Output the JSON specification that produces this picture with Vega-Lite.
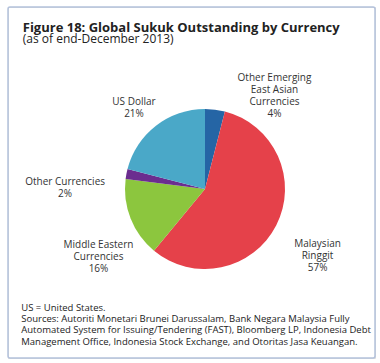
{
  "$schema": "https://vega.github.io/schema/vega-lite/v6.json",
  "padding": {"left": 6, "top": 5, "right": 7, "bottom": 7},
  "background": "white",
  "title": {
    "text": "Figure 18: Global Sukuk Outstanding by Currency",
    "subtitle": "(as of end-December 2013)",
    "anchor": "start",
    "orient": "top",
    "offset": -39,
    "dx": 16,
    "font": "Open Sans",
    "fontSize": 13,
    "fontWeight": "bold",
    "color": "#222222",
    "subtitleFont": "Open Sans",
    "subtitleFontSize": 12,
    "subtitleColor": "#222222",
    "subtitlePadding": -1
  },
  "vconcat": [
    {
      "width": 367,
      "height": 351,
      "title": {
        "text": [
          "US = United States.",
          "Sources: Autoriti Monetari Brunei Darussalam, Bank Negara Malaysia Fully",
          "Automated System for Issuing/Tendering (FAST), Bloomberg LP, Indonesia Debt",
          "Management Office, Indonesia Stock Exchange, and Otoritas Jasa Keuangan."
        ],
        "orient": "bottom",
        "anchor": "start",
        "offset": -56,
        "dx": 14,
        "font": "Open Sans",
        "fontSize": 9.5,
        "fontWeight": "normal",
        "lineHeight": 11.3,
        "color": "#222222"
      },
      "data": {
        "values": [
          {"currency": "Other Emerging East Asian Currencies", "share": 4, "rank": 1, "label": "Other Emerging\nEast Asian\nCurrencies\n4%"},
          {"currency": "Malaysian Ringgit", "share": 57, "rank": 2, "label": "Malaysian\nRinggit\n57%"},
          {"currency": "Middle Eastern Currencies", "share": 16, "rank": 3, "label": "Middle Eastern\nCurrencies\n16%"},
          {"currency": "Other Currencies", "share": 2, "rank": 4, "label": "Other Currencies\n2%"},
          {"currency": "US Dollar", "share": 21, "rank": 5, "label": "US Dollar\n21%"}
        ]
      },
      "layer": [
        {
          "data": {"values": [{"frame": "border"}]},
          "mark": {"type": "rect", "filled": false, "stroke": "#b4c2dc", "strokeWidth": 1.5, "cornerRadius": 2},
          "encoding": {
            "x": {"value": 0},
            "x2": {"value": "width"},
            "y": {"value": 0},
            "y2": {"value": "height"}
          }
        },
        {
          "mark": {"type": "arc", "outerRadius": 80, "xOffset": 13.5, "yOffset": 6.5},
          "encoding": {
            "theta": {"field": "share", "type": "quantitative", "stack": true},
            "order": {"field": "rank", "type": "quantitative"},
            "color": {
              "field": "currency",
              "type": "nominal",
              "scale": {
                "domain": ["Other Emerging East Asian Currencies", "Malaysian Ringgit", "Middle Eastern Currencies", "Other Currencies", "US Dollar"],
                "range": ["#2565a5", "#e5414a", "#8cc63e", "#6b2d8f", "#4aa8c8"]
              },
              "legend": null
            }
          }
        },
        {
          "mark": {"type": "text", "radius": 118, "xOffset": 13.5, "yOffset": 6.5, "dx": 54.7, "dy": 6.1, "lineBreak": "\n", "lineHeight": 12, "font": "Open Sans", "fontSize": 10, "color": "#333333"},
          "encoding": {
            "theta": {"field": "share", "type": "quantitative", "stack": true},
            "order": {"field": "rank", "type": "quantitative"},
            "text": {"condition": {"test": "datum.rank == 1", "field": "label"}, "value": ""}
          }
        },
        {
          "mark": {"type": "text", "radius": 118, "xOffset": 13.5, "yOffset": 6.5, "dx": 7.4, "dy": 1.7, "lineBreak": "\n", "lineHeight": 12, "font": "Open Sans", "fontSize": 10, "color": "#333333"},
          "encoding": {
            "theta": {"field": "share", "type": "quantitative", "stack": true},
            "order": {"field": "rank", "type": "quantitative"},
            "text": {"condition": {"test": "datum.rank == 2", "field": "label"}, "value": ""}
          }
        },
        {
          "mark": {"type": "text", "radius": 118, "xOffset": 13.5, "yOffset": 6.5, "dx": 3.2, "dy": 13, "lineBreak": "\n", "lineHeight": 12, "font": "Open Sans", "fontSize": 10, "color": "#333333"},
          "encoding": {
            "theta": {"field": "share", "type": "quantitative", "stack": true},
            "order": {"field": "rank", "type": "quantitative"},
            "text": {"condition": {"test": "datum.rank == 3", "field": "label"}, "value": ""}
          }
        },
        {
          "mark": {"type": "text", "radius": 118, "xOffset": 13.5, "yOffset": 6.5, "dx": -24, "dy": 15, "lineBreak": "\n", "lineHeight": 12, "font": "Open Sans", "fontSize": 10, "color": "#333333"},
          "encoding": {
            "theta": {"field": "share", "type": "quantitative", "stack": true},
            "order": {"field": "rank", "type": "quantitative"},
            "text": {"condition": {"test": "datum.rank == 4", "field": "label"}, "value": ""}
          }
        },
        {
          "mark": {"type": "text", "radius": 118, "xOffset": 13.5, "yOffset": 6.5, "dx": 1.3, "dy": 6, "lineBreak": "\n", "lineHeight": 12, "font": "Open Sans", "fontSize": 10, "color": "#333333"},
          "encoding": {
            "theta": {"field": "share", "type": "quantitative", "stack": true},
            "order": {"field": "rank", "type": "quantitative"},
            "text": {"condition": {"test": "datum.rank == 5", "field": "label"}, "value": ""}
          }
        }
      ]
    }
  ]
}
